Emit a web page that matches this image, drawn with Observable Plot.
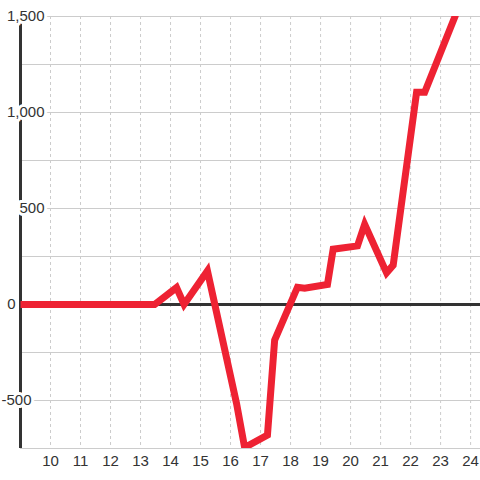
<!DOCTYPE html>
<html>
<head>
<meta charset="utf-8">
<script src="https://cdn.jsdelivr.net/npm/d3@7"></script>
<script src="https://cdn.jsdelivr.net/npm/@observablehq/plot@0.6"></script>
<style>
  html, body { margin: 0; padding: 0; background: #ffffff; }
  svg text { font-family: "Liberation Sans", Arial, sans-serif; }
</style>
</head>
<body>
<div id="chart"></div>
<script>
// Series values
const xs = [9, 13.47, 14.2, 14.45, 15.23, 16.2, 16.47, 17.23, 17.47, 18.23, 18.47, 19.23, 19.42, 20.23, 20.47, 21.2, 21.42, 22.2, 22.47, 23.5];
const ys = [0, 0, 88, 0, 175, -515, -745, -680, -185, 90, 85, 105, 288, 305, 418, 165, 205, 1105, 1105, 1508];

// Axis ticks
const xTicks = [10, 11, 12, 13, 14, 15, 16, 17, 18, 19, 20, 21, 22, 23, 24];
const yGrid = [-750, -500, -250, 250, 500, 750, 1000, 1250, 1500];
const yTickValues = [1500, 1000, 500, 0, -500];
const yTickLabels = ["1,500", "1,000", "500", "0", "-500"];

const data = xs.map((x, i) => ({x, y: ys[i]}));
const yLabels = yTickValues.map((v, i) => ({v, label: yTickLabels[i]}));

const font = "Liberation Sans, Arial, sans-serif";

const chart = Plot.plot({
  width: 480,
  height: 480,
  marginTop: 16,
  marginBottom: 32,
  marginLeft: 20,
  marginRight: 0,
  style: {fontFamily: font, background: "#ffffff", overflow: "visible"},
  x: {domain: [9, 24.33], axis: null},
  y: {domain: [-750, 1500], axis: null},
  marks: [
    Plot.ruleY(yGrid, {stroke: "#cccccc", strokeWidth: 1}),
    Plot.ruleX(xTicks, {stroke: "#cccccc", strokeWidth: 1, strokeDasharray: "3,3"}),
    Plot.ruleY([0], {stroke: "#333333", strokeWidth: 3, strokeOpacity: 1}),
    Plot.ruleX([9], {stroke: "#333333", strokeWidth: 3, strokeOpacity: 1}),
    Plot.line(data, {
      x: "x", y: "y",
      stroke: "#ee2233", strokeWidth: 7,
      strokeLinejoin: "miter", strokeLinecap: "butt", strokeMiterlimit: 10,
      curve: "linear", clip: true
    }),
    Plot.text(yLabels, {
      y: "v", text: "label",
      frameAnchor: "left",
      textAnchor: "end",
      lineAnchor: "middle",
      fontSize: 15,
      fontFamily: font,
      fill: "#333333",
      stroke: "#ffffff", strokeWidth: 6,
      render(index, scales, values, dims, context, next) {
        const g = next(index, scales, values, dims, context);
        const off = v => v > 0 ? 24 : (v === 0 ? -5 : 11);
        d3.select(g).selectAll("text").each(function(_, j) {
          const v = yLabels[index[j]].v;
          const t = d3.select(this);
          const tr = t.attr("transform") || "";
          t.attr("transform", tr + ` translate(${off(v)},0)`);
        });
        return g;
      }
    }),
    Plot.text(xTicks, {
      x: d => d, text: d => String(d),
      frameAnchor: "bottom", dy: 13,
      textAnchor: "middle", lineAnchor: "middle",
      fontSize: 15, fontFamily: font, fill: "#333333"
    })
  ]
});

document.getElementById("chart").appendChild(chart);
</script>
</body>
</html>
